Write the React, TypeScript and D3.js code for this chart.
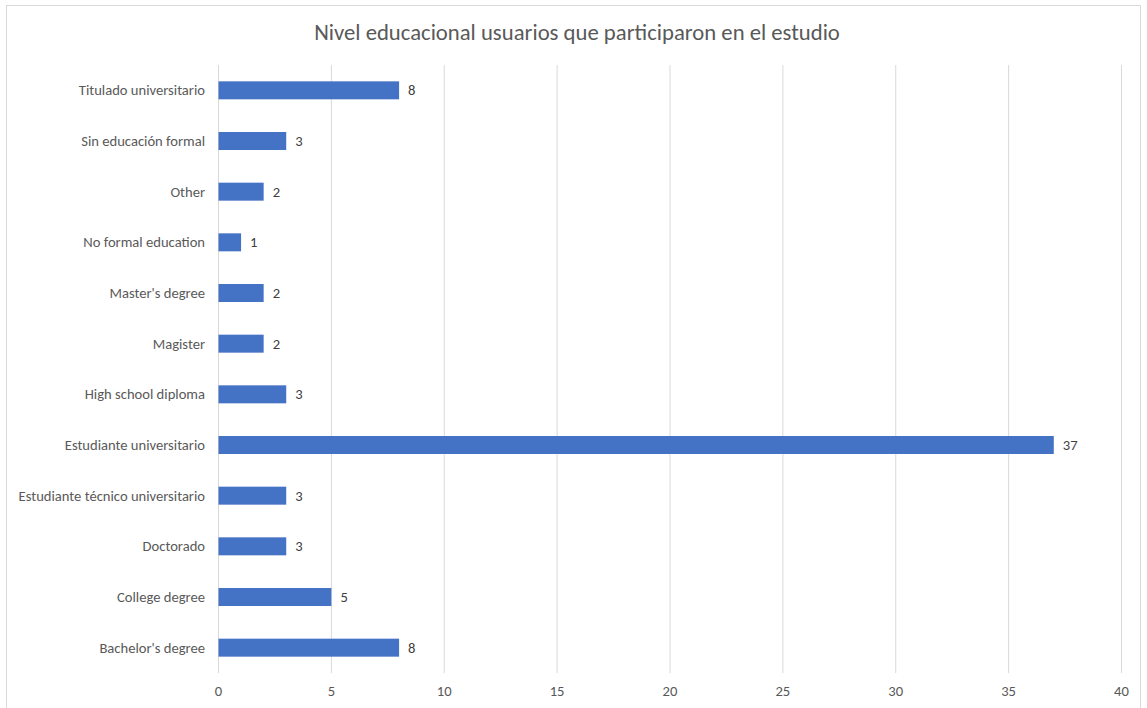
import React from "react";
import * as d3 from "d3";

const categories = [
  "Titulado universitario",
  "Sin educación formal",
  "Other",
  "No formal education",
  "Master's degree",
  "Magister",
  "High school diploma",
  "Estudiante universitario",
  "Estudiante técnico universitario",
  "Doctorado",
  "College degree",
  "Bachelor's degree",
];
const values = [8, 3, 2, 1, 2, 2, 3, 37, 3, 3, 5, 8];
const xTicks = [0, 5, 10, 15, 20, 25, 30, 35, 40];
const title = "Nivel educacional usuarios que participaron en el estudio";

const W = 1147;
const H = 708;
const font = "Carlito, Calibri, 'Open Sans', 'Noto Sans', sans-serif";

export default function App() {
  const x = d3.scaleLinear().domain([0, 40]).range([218.5, 1121.5]);
  const y = d3
    .scaleBand<string>()
    .domain(categories)
    .range([65, 673])
    .paddingInner(0.645)
    .paddingOuter(0.3225);
  const bw = y.bandwidth();
  return (
    <svg
      width={W}
      height={H}
      style={{ position: "absolute", left: 0, top: 0, background: "#fff" }}
    >
      <rect x={6.5} y={5.5} width={1134} height={720} fill="#fff" stroke="#d9d9d9" strokeWidth={1} />
      <text
        x={577}
        y={40}
        textAnchor="middle"
        fontFamily={font}
        fontSize={22.7}
        fill="#595959"
      >
        {title}
      </text>
      {xTicks.map((t) => (
        <g key={t}>
          <line x1={x(t)} x2={x(t)} y1={65} y2={673} stroke="#d9d9d9" strokeWidth={1} />
          <text
            x={x(t)}
            y={696}
            textAnchor="middle"
            fontFamily={font}
            fontSize={14.6}
            fill="#595959"
          >
            {t}
          </text>
        </g>
      ))}
      {categories.map((c, i) => {
        const yc = (y(c) as number) + bw / 2;
        return (
          <g key={c}>
            <rect
              x={x(0)}
              y={y(c) as number}
              width={x(values[i]) - x(0)}
              height={bw}
              fill="#4472C4"
            />
            <text
              x={205}
              y={yc}
              dy="0.35em"
              textAnchor="end"
              fontFamily={font}
              fontSize={14.6}
              fill="#595959"
            >
              {c}
            </text>
            <text
              x={x(values[i]) + 9}
              y={yc}
              dy="0.35em"
              fontFamily={font}
              fontSize={14.6}
              fill="#404040"
            >
              {values[i]}
            </text>
          </g>
        );
      })}
    </svg>
  );
}
